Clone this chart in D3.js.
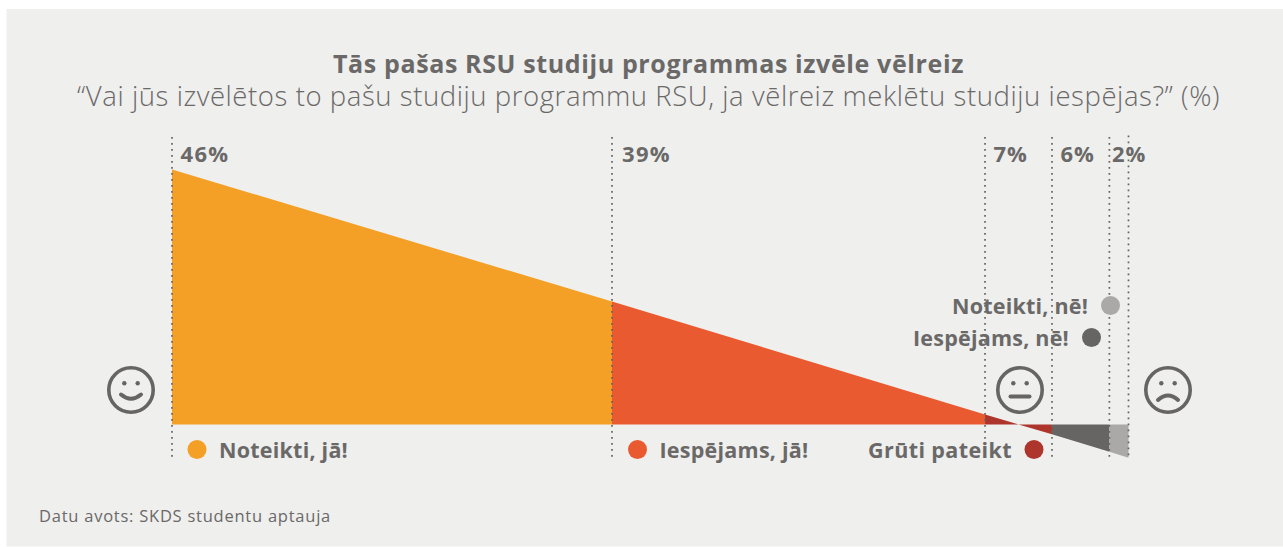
<!DOCTYPE html>
<html><head><meta charset="utf-8">
<script src="https://cdn.jsdelivr.net/npm/d3@7"></script>
<style>html,body{margin:0;padding:0;background:#fff}svg{display:block}text{font-family:"Open Sans",sans-serif;fill:#6a6968}</style>
</head><body><svg id="c" width="1283" height="547"></svg>
<script>
const titleText = "Tās pašas RSU studiju programmas izvēle vēlreiz";
const subtitleText = "“Vai jūs izvēlētos to pašu studiju programmu RSU, ja vēlreiz meklētu studiju iespējas?” (%)";
const sourceText = "Datu avots: SKDS studentu aptauja";
const categories = ["Noteikti, jā!","Iespējams, jā!","Grūti pateikt","Iespējams, nē!","Noteikti, nē!"];
const shares = [46,39,7,6,2];
const shareLabels = ["46%","39%","7%","6%","2%"];
const colors = ["#f49f25","#e95a30","#ae352c","#666564","#aaa9a7"];
const edgeLevels = [100,48.2,3.9,-3.8,-10.7,-13];

const svg = d3.select("#c");
svg.append("rect").attr("x",6.5).attr("y",9).attr("width",1276.5).attr("height",537.5).attr("fill","#efefee");
const x = d3.scaleLinear().domain([0,100]).range([172,1128.5]);
const y = d3.scaleLinear().domain([0,100]).range([424.5,169.5]);
const cum = [0,...d3.cumsum(shares)];
const area = d3.area().x(d=>x(d.c)).y0(y(0)).y1(d=>y(d.v));
shares.forEach((s,i)=>{
  svg.append("path").datum([{c:cum[i],v:edgeLevels[i]},{c:cum[i+1],v:edgeLevels[i+1]}])
    .attr("d",area).attr("fill",colors[i]);
});
cum.forEach((c,i)=>{
  svg.append("line").attr("x1",x(c)).attr("x2",x(c)).attr("y1",i===5?135.5:137).attr("y2",459)
    .attr("stroke","#666564").attr("stroke-width",1.7).attr("stroke-dasharray","1.7 4.3");
});
// draws a text and nudges its letter spacing so it spans the width measured in the reference
const t=(x,y,s,size,weight,anchor,w)=>{
  const n=svg.append("text").attr("x",x).attr("y",y).attr("font-size",size).attr("font-weight",weight).attr("text-anchor",anchor||"start").text(s);
  if(w){const cur=n.node().getComputedTextLength();n.attr("letter-spacing",(w-cur)/s.length);}
  return n;
};
t(648.5,73,titleText,25,700,"middle",631);
t(648.5,106,subtitleText,27.5,300,"middle",1143);
t(39,522,sourceText,16.5,400,"start",292);
const labelX=[180.5,622,993.5,1060.5,1112];
const labelW=[49,49,34,34,34];
shareLabels.forEach((s,i)=>t(labelX[i],161.5,s,22,700,"start",labelW[i]));
const legend=[{cx:197,cy:449.5,tx:219,ty:457.5,a:"start",w:129},{cx:637.5,cy:449.5,tx:659.5,ty:457.5,a:"start",w:149},{cx:1034,cy:449.5,tx:1012,ty:457.5,a:"end",w:144},{cx:1091.5,cy:337.5,tx:1069,ty:345.5,a:"end",w:156},{cx:1110.5,cy:305.5,tx:1088,ty:313.5,a:"end",w:136}];
legend.forEach((l,i)=>{
  svg.append("circle").attr("cx",l.cx).attr("cy",l.cy).attr("r",9.5).attr("fill",colors[i]);
  t(l.tx,l.ty,categories[i],21.5,700,l.a,l.w);
});
const face=(cx,cy,kind)=>{
  const g=svg.append("g").attr("transform",`translate(${cx},${cy})`).attr("fill","none").attr("stroke","#666564");
  g.append("circle").attr("r",22.2).attr("stroke-width",3.6);
  [-6.7,6.7].forEach(d=>g.append("circle").attr("cx",d).attr("cy",-6.7).attr("r",2.2).attr("fill","#666564").attr("stroke","none"));
  const m = kind==="smile"?"M-10,4.5Q0,13 10,4.5":kind==="neutral"?"M-9.5,6.5H9.5":"M-10,10Q0,1 10,10";
  g.append("path").attr("d",m).attr("stroke-width",4).attr("stroke-linecap","round");
};
face(131,390,"smile");face(1020,390,"neutral");face(1168,390,"sad");
</script></body></html>
